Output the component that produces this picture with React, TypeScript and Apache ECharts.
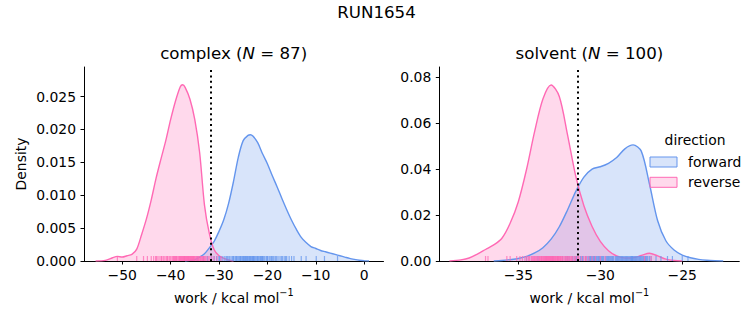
import React, { useEffect, useRef } from "react";
import * as echarts from "echarts";

// ---------- data ----------
const suptitle = "RUN1654";
const panelNames = ["complex", "solvent"];
const panelN = [87, 100];
const directions = ["forward", "reverse"];
const cutLines = [-31.75, -31.4];

const complexXRange = [-57.9, 4.0];
const complexYRange = [0, 0.0295];
const solventXRange = [-39.82, -21.52];
const solventYRange = [0, 0.0844];

const complexXTicks = [-50, -40, -30, -20, -10, 0];
const complexYTicks = [0, 0.005, 0.01, 0.015, 0.02, 0.025];
const solventXTicks = [-35, -30, -25];
const solventYTicks = [0, 0.02, 0.04, 0.06, 0.08];

// complex, forward KDE
const complexFwdX = [-37, -36, -35, -34, -33, -32, -31, -30, -29, -28, -27, -26, -25, -24, -23.5, -23, -22, -21, -20, -19, -18, -17, -16, -15, -14, -13, -12, -11, -10, -9, -8, -7, -6, -5, -4, -3, -2, -1, 0, 1];
const complexFwdY = [0, 0.0001, 0.0002, 0.0006, 0.0011, 0.002, 0.003, 0.0045, 0.0063, 0.0088, 0.0121, 0.0158, 0.0183, 0.0191, 0.0192, 0.019, 0.018, 0.0163, 0.0148, 0.013, 0.0113, 0.0095, 0.0078, 0.0062, 0.0048, 0.0036, 0.0028, 0.0022, 0.0019, 0.0016, 0.0014, 0.0012, 0.001, 0.0008, 0.0006, 0.0004, 0.00025, 0.00012, 0.00003, 0];
// complex, reverse KDE
const complexRevX = [-55.5, -53.5, -52, -51, -50, -49, -48, -47, -46, -45, -44, -43, -42, -41, -40, -39, -38, -37.5, -37, -36, -35, -34, -33, -32, -31, -30, -29, -28, -27];
const complexRevY = [0, 0.0001, 0.0005, 0.0007, 0.0006, 0.0008, 0.001, 0.0018, 0.004, 0.0064, 0.0093, 0.0126, 0.0155, 0.0183, 0.0215, 0.0243, 0.0265, 0.0268, 0.0264, 0.0246, 0.0215, 0.0165, 0.0085, 0.0042, 0.0017, 0.0008, 0.0004, 0.00015, 0];
// solvent, forward KDE
const solventFwdX = [-36.5, -36, -35.5, -35, -34.5, -34, -33.5, -33, -32.5, -32, -31.5, -31, -30.5, -30, -29.5, -29, -28.5, -28, -27.5, -27, -26.5, -26, -25.5, -25, -24.5, -24, -23.5, -23, -22.5];
const solventFwdY = [0, 0.0002, 0.0006, 0.0011, 0.002, 0.0035, 0.0058, 0.0095, 0.0149, 0.0222, 0.0302, 0.0365, 0.04, 0.041, 0.0425, 0.045, 0.0488, 0.0505, 0.0478, 0.0335, 0.0175, 0.0088, 0.0048, 0.0026, 0.0014, 0.0007, 0.0003, 0.0001, 0];
// solvent, reverse KDE
const solventRevX = [-39.2, -38.5, -38, -37.5, -37, -36.5, -36, -35.5, -35, -34.5, -34, -33.5, -33, -32.5, -32, -31.5, -31, -30.5, -30, -29.5, -29, -28.5, -28, -27.5, -27, -26.5, -26, -25.5, -25];
const solventRevY = [0, 0.0005, 0.0013, 0.003, 0.005, 0.007, 0.0099, 0.0164, 0.0258, 0.0398, 0.0565, 0.0705, 0.0766, 0.0716, 0.055, 0.037, 0.024, 0.015, 0.0085, 0.0045, 0.0022, 0.0013, 0.0014, 0.0024, 0.0034, 0.0022, 0.0008, 0.0002, 0];

// rug samples
const complexFwdRug = [
  -34.5, -33.2, -32.4, -31.6, -31.0, -30.5, -30.0, -29.9, -29.6, -29.2,
  -28.8, -28.5, -28.3, -28.1, -27.8, -27.5, -27.2, -27.0, -26.9, -26.6,
  -26.4, -26.3, -26.1, -25.9, -25.7, -25.6, -25.5, -25.3, -25.1, -25.0,
  -24.9, -24.7, -24.6, -24.5, -24.3, -24.2, -24.1, -23.9, -23.7, -23.6,
  -23.5, -23.3, -23.1, -23.0, -22.9, -22.8, -22.7, -22.5, -22.3, -22.1,
  -22.0, -21.9, -21.7, -21.5, -21.4, -21.2, -21.1, -21.0, -20.9, -20.7,
  -20.5, -20.2, -20.0, -19.9, -19.6, -19.3, -19.1, -19.0, -18.7, -18.4,
  -18.2, -18.0, -17.6, -17.2, -17.0, -16.8, -16.4, -16.2, -16.0, -15.5,
  -15.0, -14.5, -13.0, -12.0, -9.9, -8.2, -5.5,
];
const complexRevRug = [
  -51.0, -47.0, -45.6, -44.8, -44.0, -43.5, -43.1, -42.9, -42.6, -42.2,
  -41.9, -41.8, -41.5, -41.2, -40.9, -40.7, -40.6, -40.3, -40.1, -39.9,
  -39.6, -39.4, -39.3, -39.2, -39.0, -38.9, -38.8, -38.7, -38.5, -38.3,
  -38.2, -38.1, -38.0, -37.9, -37.8, -37.7, -37.6, -37.5, -37.4, -37.3,
  -37.2, -37.15, -37.1, -37.0, -36.9, -36.8, -36.7, -36.6, -36.5, -36.4,
  -36.35, -36.3, -36.2, -36.1, -36.0, -35.9, -35.8, -35.7, -35.6, -35.5,
  -35.4, -35.3, -35.25, -35.1, -35.0, -34.9, -34.7, -34.6, -34.4, -34.3,
  -34.2, -34.1, -33.9, -33.8, -33.6, -33.4, -33.3, -33.2, -33.0, -32.8,
  -32.5, -32.2, -31.9, -31.5, -31.0, -30.4, -29.6,
];
const solventFwdRug = [
  -34.5, -33.8, -33.3, -32.9, -32.6, -32.3, -32.1, -32.0, -31.9, -31.7,
  -31.6, -31.5, -31.45, -31.35, -31.2, -31.1, -31.05, -30.9, -30.8, -30.7,
  -30.65, -30.6, -30.55, -30.5, -30.45, -30.4, -30.35, -30.3, -30.25, -30.2,
  -30.15, -30.1, -30.05, -30.0, -29.95, -29.9, -29.85, -29.8, -29.7, -29.65,
  -29.6, -29.55, -29.5, -29.45, -29.4, -29.35, -29.3, -29.25, -29.2, -29.1,
  -29.05, -29.0, -28.95, -28.9, -28.85, -28.8, -28.75, -28.7, -28.65, -28.6,
  -28.55, -28.5, -28.45, -28.4, -28.35, -28.3, -28.25, -28.2, -28.15, -28.1,
  -28.05, -28.02, -28.0, -27.95, -27.9, -27.85, -27.8, -27.75, -27.7, -27.65,
  -27.6, -27.55, -27.5, -27.45, -27.4, -27.35, -27.3, -27.25, -27.2, -27.15,
  -27.1, -27.0, -26.9, -26.6, -26.3, -25.9, -25.6, -25.0, -24.65, -28.08,
];
const solventRevRug = [
  -37.0, -36.85, -35.7, -35.5, -35.1, -34.9, -34.75, -34.6, -34.5, -34.4,
  -34.35, -34.3, -34.2, -34.15, -34.1, -34.05, -34.02, -33.95, -33.9, -33.85,
  -33.8, -33.75, -33.7, -33.68, -33.62, -33.6, -33.58, -33.55, -33.5, -33.48,
  -33.45, -33.4, -33.38, -33.35, -33.32, -33.3, -33.27, -33.25, -33.22, -33.2,
  -33.17, -33.15, -33.12, -33.1, -33.08, -33.05, -33.02, -33.0, -32.98, -32.95,
  -32.92, -32.9, -32.88, -32.85, -32.83, -32.8, -32.75, -32.72, -32.7, -32.65,
  -32.62, -32.6, -32.58, -32.55, -32.52, -32.5, -32.45, -32.42, -32.4, -32.35,
  -32.3, -32.28, -32.2, -32.15, -32.1, -32.05, -32.0, -31.95, -31.9, -31.85,
  -31.8, -31.75, -31.7, -31.6, -31.55, -31.5, -31.4, -31.35, -31.3, -31.15,
  -31.0, -30.9, -30.85, -30.7, -30.5, -30.3, -30.0, -29.7, -27.3, -26.9,
];

// ---------- styles ----------
const FONT = "DejaVu Sans";
const FWD = "#6495ED";
const REV = "#FF69B4";
const FWD_FILL = "rgba(100,149,237,0.25)";
const REV_FILL = "rgba(255,105,180,0.25)";
const TICK_FS = 13.9;
const TITLE_FS = 16.67;

const minus = (v: number) => (v < 0 ? "\u2212" + String(Math.abs(v)) : String(v));

function kdeSeries(name: string, xs: number[], ys: number[], color: string, fill: string, idx: number) {
  return {
    type: "line",
    name,
    xAxisIndex: idx,
    yAxisIndex: idx,
    data: xs.map((x, i) => [x, ys[i]]),
    smooth: 0.3,
    symbol: "none",
    showSymbol: false,
    silent: true,
    lineStyle: { color, width: 1.4 },
    itemStyle: { color },
    areaStyle: { color: fill, opacity: 1 },
    z: 2,
  };
}

function rugSeries(name: string, vals: number[], color: string, idx: number, extra: any = {}) {
  return {
    type: "scatter",
    name,
    xAxisIndex: idx,
    yAxisIndex: idx,
    data: vals.map((v) => [v, 0]),
    symbol: "rect",
    symbolSize: [1.2, 5],
    symbolOffset: [0, -2.5],
    silent: true,
    itemStyle: { color, opacity: 0.75 },
    z: 3,
    ...extra,
  };
}

function dotted(v: number) {
  return {
    silent: true,
    symbol: ["none", "none"],
    label: { show: false },
    lineStyle: { color: "#000", width: 2, type: [2, 3.4], opacity: 1 },
    data: [{ xAxis: v }],
    z: 6,
  };
}

const xNameRich = {
  a: { fontFamily: FONT, fontSize: TICK_FS, color: "#000", lineHeight: 18, verticalAlign: "bottom" },
  s: { fontFamily: FONT, fontSize: 9.7, color: "#000", lineHeight: 18, verticalAlign: "top" },
};

function xAxis(idx: number, range: number[], ticks: number[]) {
  return {
    type: "value",
    gridIndex: idx,
    min: range[0],
    max: range[1],
    axisLine: { show: true, onZero: false, lineStyle: { color: "#000", width: 1 } },
    axisTick: { show: true, inside: false, length: 3.5, lineStyle: { color: "#000", width: 1 }, customValues: ticks },
    axisLabel: { customValues: ticks, formatter: (v: number) => minus(v), color: "#000", fontSize: TICK_FS, fontFamily: FONT, margin: 7 },
    splitLine: { show: false },
    name: "{a|work / kcal mol}{s|\u22121}",
    nameLocation: "middle",
    nameGap: 26,
    nameTextStyle: { rich: xNameRich },
  };
}

function yAxis(idx: number, range: number[], ticks: number[], digits: number, name?: string) {
  return {
    type: "value",
    gridIndex: idx,
    min: range[0],
    max: range[1],
    axisLine: { show: true, onZero: false, lineStyle: { color: "#000", width: 1 } },
    axisTick: { show: true, inside: false, length: 3.5, lineStyle: { color: "#000", width: 1 }, customValues: ticks },
    axisLabel: { customValues: ticks, formatter: (v: number) => v.toFixed(digits), color: "#000", fontSize: TICK_FS, fontFamily: FONT, margin: 8 },
    splitLine: { show: false },
    name: name || "",
    nameLocation: "middle",
    nameGap: 56,
    nameTextStyle: { fontFamily: FONT, fontSize: TICK_FS, color: "#000" },
  };
}

const titleRich = {
  n: { fontFamily: FONT, fontSize: TITLE_FS, color: "#000", fontWeight: "normal" },
  i: { fontFamily: FONT, fontSize: TITLE_FS, color: "#000", fontStyle: "italic", fontWeight: "normal" },
};

export default function App() {
  const ref = useRef<HTMLDivElement>(null);
  useEffect(() => {
    if (!ref.current) return;
    const chart = echarts.init(ref.current, undefined, { renderer: "svg" });
    const option: any = {
      animation: false,
      backgroundColor: "#fff",
      title: [
        { text: suptitle, left: 376.5, top: 4, textAlign: "center", padding: 0, textStyle: { fontFamily: FONT, fontSize: TITLE_FS, fontWeight: "normal", color: "#000" } },
        { text: `{n|${panelNames[0]} (}{i|N}{n| = ${panelN[0]})}`, left: 233.7, top: 45, textAlign: "center", padding: 0, textStyle: { rich: titleRich, fontSize: TITLE_FS, fontWeight: "normal" } },
        { text: `{n|${panelNames[1]} (}{i|N}{n| = ${panelN[1]})}`, left: 589.4, top: 45, textAlign: "center", padding: 0, textStyle: { rich: titleRich, fontSize: TITLE_FS, fontWeight: "normal" } },
        { text: "direction", left: 695, top: 133, textAlign: "center", padding: 0, textStyle: { fontFamily: FONT, fontSize: TICK_FS, fontWeight: "normal", color: "#000" } },
      ],
      legend: {
        orient: "vertical",
        left: 649.5,
        top: 154,
        padding: 0,
        itemWidth: 27,
        itemHeight: 10,
        itemGap: 4.3,
        selectedMode: false,
        textStyle: { fontFamily: FONT, fontSize: TICK_FS, color: "#000", lineHeight: 16, padding: [0, 0, 0, 6] },
        data: [
          { name: directions[0], icon: "rect", itemStyle: { color: FWD_FILL, borderColor: FWD, borderWidth: 1 } },
          { name: directions[1], icon: "rect", itemStyle: { color: REV_FILL, borderColor: REV, borderWidth: 1 } },
        ],
      },
      grid: [
        { left: 84, top: 67, width: 299.5, height: 194, containLabel: false, outerBoundsMode: "none" },
        { left: 439.3, top: 67, width: 300, height: 194, containLabel: false, outerBoundsMode: "none" },
      ],
      xAxis: [xAxis(0, complexXRange, complexXTicks), xAxis(1, solventXRange, solventXTicks)],
      yAxis: [yAxis(0, complexYRange, complexYTicks, 3, "Density"), yAxis(1, solventYRange, solventYTicks, 2)],
      series: [
        kdeSeries(directions[0], complexFwdX, complexFwdY, FWD, FWD_FILL, 0),
        kdeSeries(directions[1], complexRevX, complexRevY, REV, REV_FILL, 0),
        kdeSeries(directions[0], solventFwdX, solventFwdY, FWD, FWD_FILL, 1),
        kdeSeries(directions[1], solventRevX, solventRevY, REV, REV_FILL, 1),
        rugSeries(directions[0], complexFwdRug, FWD, 0),
        rugSeries(directions[1], complexRevRug, REV, 0, { markLine: dotted(cutLines[0]) }),
        rugSeries(directions[0], solventFwdRug, FWD, 1),
        rugSeries(directions[1], solventRevRug, REV, 1, { markLine: dotted(cutLines[1]) }),
      ],
    };
    chart.setOption(option);
    return () => chart.dispose();
  }, []);
  return <div ref={ref} style={{ position: "absolute", left: 0, top: 0, width: 753, height: 325 }} />;
}
